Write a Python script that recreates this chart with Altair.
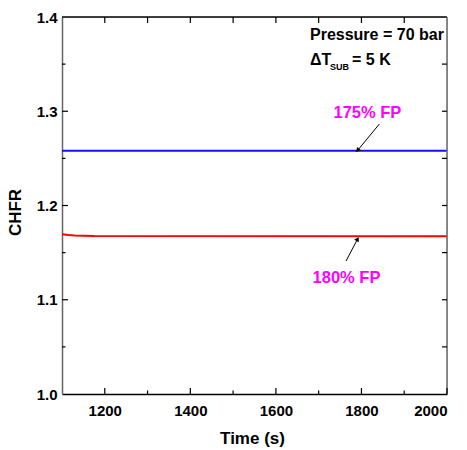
import altair as alt
import pandas as pd

# ---- data ----
time_175 = [1100, 2000]
chfr_175 = [1.258, 1.258]
time_180 = [1100, 1115, 1130, 1150, 1175, 2000]
chfr_180 = [1.1695, 1.1686, 1.1681, 1.1679, 1.1676, 1.1675]

x_major = [1200, 1400, 1600, 1800, 2000]
x_minor = [1300, 1500, 1700, 1900]
x_top = [1200, 1300, 1400, 1500, 1600, 1700, 1800, 1900]
y_major = [1.1, 1.2, 1.3]
y_minor = [1.05, 1.15, 1.25, 1.35]
y_labels = [1.0, 1.1, 1.2, 1.3, 1.4]

label_text = ["175% FP", "180% FP"]
label_time = [1814, 1765]
label_chfr = [1.298, 1.1235]
arrow_t0 = [1842, 1764]
arrow_c0 = [1.2865, 1.1411]
arrow_t1 = [1791, 1791]
arrow_c1 = [1.2585, 1.1645]
arrow_angle = [220, 28]

W, H = 385, 377
FONT = "Liberation Sans"

lines = pd.DataFrame(
    [{"time": t, "chfr": c, "case": "175% FP"} for t, c in zip(time_175, chfr_175)]
    + [{"time": t, "chfr": c, "case": "180% FP"} for t, c in zip(time_180, chfr_180)]
)

xs = alt.Scale(domain=[1100, 2000], nice=False, zero=False)
ys = alt.Scale(domain=[1.0, 1.4], nice=False, zero=False)

base = alt.Chart(lines)

line_layer = base.mark_line(strokeWidth=2, clip=True).encode(
    x=alt.X("time:Q", scale=xs, axis=alt.Axis(
        values=x_major, format="d", ticks=False, domain=True, domainColor="#000", domainWidth=1.5,
        labelFont=FONT, labelFontWeight="bold", labelFontSize=15, labelColor="#000",
        labelPadding=9, grid=False, title="Time (s)", titleFont=FONT,
        titleFontWeight="bold", titleFontSize=17, titleColor="#000",
        titleX=190, titleY=44, titleBaseline="middle", titleAlign="center")),
    y=alt.Y("chfr:Q", scale=ys, axis=alt.Axis(
        values=y_labels, format=".1f", ticks=False, domain=True, domainColor="#666",
        domainWidth=1.5, labelFont=FONT, labelFontWeight="bold", labelFontSize=15,
        labelColor="#000", labelPadding=5, grid=False, title="CHFR", titleFont=FONT,
        titleFontWeight="bold", titleFontSize=17, titleColor="#000",
        titleX=-47, titleY=195, titleBaseline="middle", titleAlign="center")),
    color=alt.Color("case:N", scale=alt.Scale(domain=["175% FP", "180% FP"],
                                              range=["#1010ff", "#ff0000"]), legend=None),
    detail="case:N",
)

# frame top and right
frame_top = alt.Chart(pd.DataFrame({"a": [0]})).mark_rule(color="#000", strokeWidth=1.5).encode(
    x=alt.value(0), x2=alt.value(W), y=alt.value(0))
frame_right = alt.Chart(pd.DataFrame({"a": [0]})).mark_rule(color="#666", strokeWidth=1.5).encode(
    x=alt.value(W), y=alt.value(0), y2=alt.value(H))

def xticks(vals, y0, y1):
    return alt.Chart(pd.DataFrame({"t": vals})).mark_rule(color="#000", strokeWidth=1.2).encode(
        x=alt.X("t:Q", scale=xs), y=alt.value(y0), y2=alt.value(y1))

def yticks(vals, x0, x1):
    return alt.Chart(pd.DataFrame({"c": vals})).mark_rule(color="#000", strokeWidth=1.2).encode(
        y=alt.Y("c:Q", scale=ys), x=alt.value(x0), x2=alt.value(x1))

ticks = [
    xticks(x_major, H, H - 6), xticks(x_minor, H, H - 3.5),
    xticks(x_top, 0, 6),
    yticks(y_major, 0, 6), yticks(y_minor, 0, 3.5),
    yticks(y_major + y_minor, W, W - 5),
]

ann = pd.DataFrame({"text": label_text, "t": label_time, "c": label_chfr,
                    "t0": arrow_t0, "c0": arrow_c0, "t1": arrow_t1, "c1": arrow_c1,
                    "ang": arrow_angle})

labels = alt.Chart(ann).mark_text(font=FONT, fontWeight="bold", fontSize=16.5,
                                  color="#ff00ff", baseline="middle").encode(
    x=alt.X("t:Q", scale=xs), y=alt.Y("c:Q", scale=ys), text="text:N")

arrows = alt.Chart(ann).mark_rule(color="#000", strokeWidth=1).encode(
    x=alt.X("t0:Q", scale=xs), y=alt.Y("c0:Q", scale=ys),
    x2="t1:Q", y2="c1:Q")

heads = alt.Chart(ann).mark_point(shape="triangle-up", filled=True, color="#000",
                                  size=28, opacity=1).encode(
    x=alt.X("t1:Q", scale=xs), y=alt.Y("c1:Q", scale=ys),
    angle=alt.Angle("ang:Q", scale=None))

# condition annotation
cond_text = ["Pressure = 70 bar", "\u0394T", "SUB", "= 5 K"]
cond_x = [248, 248, 268, 290]
cond_y = [23, 48, 53, 48]
cond_size = [16, 16, 9, 16]
cond = pd.DataFrame({"text": cond_text, "x": cond_x, "y": cond_y, "s": cond_size})
cond_layer = alt.Chart(cond).mark_text(font=FONT, fontWeight="bold", color="#000",
                                       align="left", baseline="alphabetic").encode(
    x=alt.X("x:Q", scale=None), y=alt.Y("y:Q", scale=None), text="text:N",
    size=alt.Size("s:Q", scale=None, legend=None))

chart = alt.layer(line_layer, frame_top, frame_right, *ticks, arrows, heads, labels,
                  cond_layer).properties(
    width=W, height=H,
    autosize=alt.AutoSizeParams(type="none"),
    padding={"left": 62, "top": 17, "right": 20, "bottom": 56},
).configure_view(stroke=None).configure(background="white")

chart.save("out.html", embed_options={"renderer": "svg", "actions": False})
